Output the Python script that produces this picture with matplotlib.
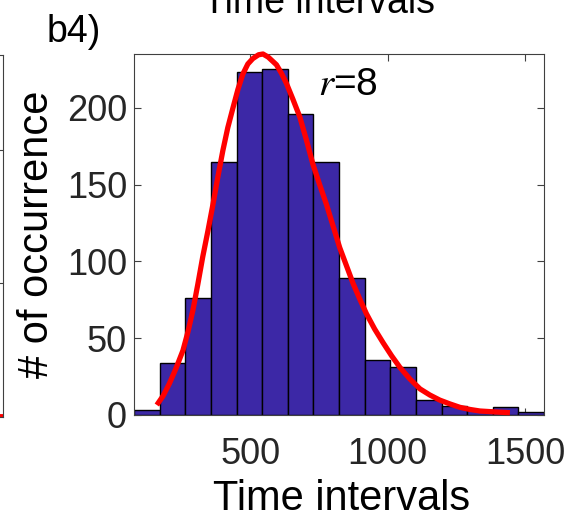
import numpy as np
import matplotlib
matplotlib.use("Agg")
import matplotlib.pyplot as plt

plt.rcParams['font.family'] = ['Liberation Sans', 'DejaVu Sans']
plt.rcParams['mathtext.fontset'] = 'stix'

# ---- data ----
data_min = 77.0
data_max = 1568.0
counts = [3, 34, 76, 165, 223, 225, 196, 165, 89, 36, 31, 10, 6, 3, 5, 2]

fit_x = [160, 183, 206, 230, 255, 273, 291, 309, 327, 346, 364, 382, 400, 418,
         437, 455, 473, 491, 509, 530, 546, 565, 595, 613, 631, 655, 680, 704,
         728, 752, 777, 801, 825, 850, 874, 898, 922, 952, 983, 1014, 1044,
         1080, 1117, 1153, 1189, 1226, 1262, 1299, 1335, 1390, 1444]
fit_y = [6.5, 12.5, 20.6, 30.5, 42, 54, 68, 85, 103, 120, 137, 155, 172, 187,
         200, 212, 222, 228.5, 232, 234.5, 235, 233, 228, 222.5, 216, 205.5, 194,
         179, 163, 150, 137, 123, 109, 97, 85.5, 75.5, 66, 56, 47, 38.5, 31,
         23.5, 17, 13, 9.7, 7.2, 5, 3.6, 2.6, 2.0, 1.5]

xticks = [500, 1000, 1500]
yticks = [0, 50, 100, 150, 200]

W, H = 577, 520
fig = plt.figure(figsize=(W / 100, H / 100), dpi=100)

def px_rect(l, t, r, b):
    return [l / W, 1 - b / H, (r - l) / W, (b - t) / H]

# fragment of neighbouring panel at the far left
axf = fig.add_axes(px_rect(-300, 55, 3, 417))
axf.set_xlim(0, 1)
axf.set_ylim(0, 2.71)
axf.plot([0, 1], [0.005, 0.005], color='red', lw=3.5, clip_on=True)
axf.set_yticks([1, 2])
axf.set_xticks([])
axf.tick_params(axis='y', direction='in', left=False, right=True,
                labelleft=False, length=5, color='#404040')
for s in axf.spines.values():
    s.set_color('#404040')
    s.set_linewidth(0.8)

# main panel
ax = fig.add_axes(px_rect(134, 54, 544, 415))
edges = np.linspace(data_min, data_max, len(counts) + 1)
ax.bar(edges[:-1], counts, width=np.diff(edges), align='edge',
       color='#3c28a6', edgecolor='black', linewidth=1.0, zorder=2)
ax.plot(fit_x, fit_y, color='red', lw=3.8, solid_capstyle='butt',
        solid_joinstyle='round', zorder=3, clip_on=False)

ax.set_xlim(data_min, data_max)
ax.set_ylim(0, 235)
ax.set_xticks(xticks)
ax.set_yticks(yticks)
ax.tick_params(direction='in', length=5, top=True, right=True,
               labelsize=26, labelcolor='#262626', color='#404040', width=0.8)
ax.tick_params(axis='x', pad=16)
ax.tick_params(axis='y', pad=5)
for s in ax.spines.values():
    s.set_color('#404040')
    s.set_linewidth(0.8)

ax.set_xlabel('Time intervals', fontsize=30, color='black')
ax.xaxis.set_label_coords(0.5 + 3 / 410, (415 - 510) / 361)
ax.xaxis.label.set_va('baseline')

ax.set_ylabel('# of occurrence', fontsize=30, color='black')
ax.yaxis.set_label_coords((48 - 134) / 410, 0.5)
ax.yaxis.label.set_va('baseline')

fig.text(318 / W, 1 - 95 / H, r'$r$=8', fontsize=28, va='baseline', ha='left')

# panel title, partly cut off by the top edge as in the reference
fig.text(319 / W, 1 - 13 / H, 'Time intervals', fontsize=27, ha='center',
         va='baseline')
fig.text(47 / W, 1 - 42 / H, 'b4)', fontsize=27, ha='left', va='baseline')

fig.savefig('out.png', dpi=100)
